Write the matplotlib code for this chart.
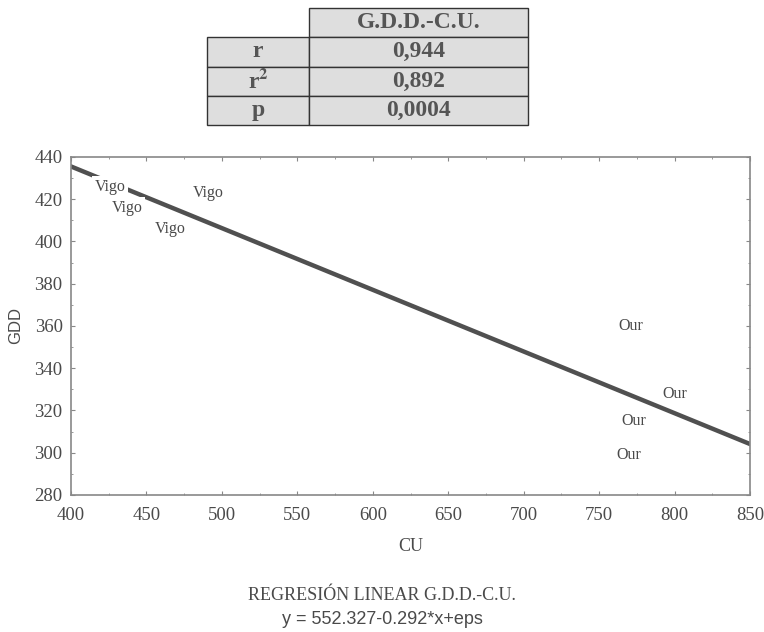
import numpy as np
import matplotlib.pyplot as plt
from matplotlib.ticker import MultipleLocator

# === Data ===
cu = [426, 437, 466, 491, 771, 800, 773, 770]
gdd = [426, 416, 406, 423, 360, 328, 315, 299]
site = ["Vigo", "Vigo", "Vigo", "Vigo", "Our", "Our", "Our", "Our"]

intercept = 552.327
slope = -0.292

stat_names = ["r", "r$^\\mathbf{2}$", "p"]
stat_values = ["0,944", "0,892", "0,0004"]
table_header = "G.D.D.-C.U."

ink = "#4a4a4a"
plt.rcParams["font.family"] = ["Liberation Serif", "DejaVu Serif"]
plt.rcParams["mathtext.fontset"] = "stix"

fig = plt.figure(figsize=(7.64, 6.32), dpi=100)
ax = fig.add_axes([71 / 764, 1 - 495 / 632, 679 / 764, 338 / 632])

# === Regression line ===
xs = np.array([400, 850])
ax.plot(xs, intercept + slope * xs, color="#505050", lw=3.2, zorder=1)

# === Points drawn as labels ===
for x, y, s in zip(cu, gdd, site):
    ax.text(x, y, s, ha="center", va="center", fontsize=11.5, color=ink,
            bbox=dict(boxstyle="square,pad=0.15", fc="white", ec="none"), zorder=2)

ax.set_xlim(400, 850)
ax.set_ylim(280, 440)
ax.xaxis.set_major_locator(MultipleLocator(50))
ax.yaxis.set_major_locator(MultipleLocator(20))
ax.xaxis.set_minor_locator(MultipleLocator(25))
ax.yaxis.set_minor_locator(MultipleLocator(10))
ax.tick_params(which="both", direction="in", top=True, right=True, color="#888888",
               labelsize=13.5, labelcolor=ink)
ax.tick_params(which="major", length=3)
ax.tick_params(which="minor", length=1.5)
ax.tick_params(axis="x", pad=9)
ax.tick_params(axis="y", pad=6)
for sp in ax.spines.values():
    sp.set_color("#888888")
    sp.set_linewidth(1.2)
ax.set_xlabel("CU", fontsize=13, color=ink, labelpad=10)
ax.set_ylabel("GDD", fontsize=12, color=ink, labelpad=8, family="Liberation Sans")

# === Caption ===
fig.text(0.5, 1 - 595 / 632, "REGRESIÓN LINEAR G.D.D.-C.U.", ha="center", va="center",
         fontsize=13, color=ink)
fig.text(0.5, 1 - 620 / 632, "y = 552.327-0.292*x+eps", ha="center", va="center",
         fontsize=13, color=ink, family="Liberation Sans")

# === Statistics table ===
tab = fig.add_axes([207 / 764, 1 - 125 / 632, 321 / 764, 117 / 632])
tab.axis("off")
rows = [["", table_header]] + [[n, v] for n, v in zip(stat_names, stat_values)]
t = tab.table(cellText=rows, colWidths=[102 / 321, 219 / 321], loc="center",
              bbox=[0, 0, 1, 1], cellLoc="center")
t.auto_set_font_size(False)
for (r, c), cell in t.get_celld().items():
    cell.set_facecolor("#dedede")
    cell.set_edgecolor("#333333")
    cell.set_linewidth(1)
    cell.get_text().set_fontsize(17)
    cell.get_text().set_fontweight("bold")
    cell.get_text().set_color("#555555")
    if r == 0 and c == 0:
        cell.set_facecolor("white")
        cell.set_edgecolor("white")

fig.savefig("out.png", dpi=100)
